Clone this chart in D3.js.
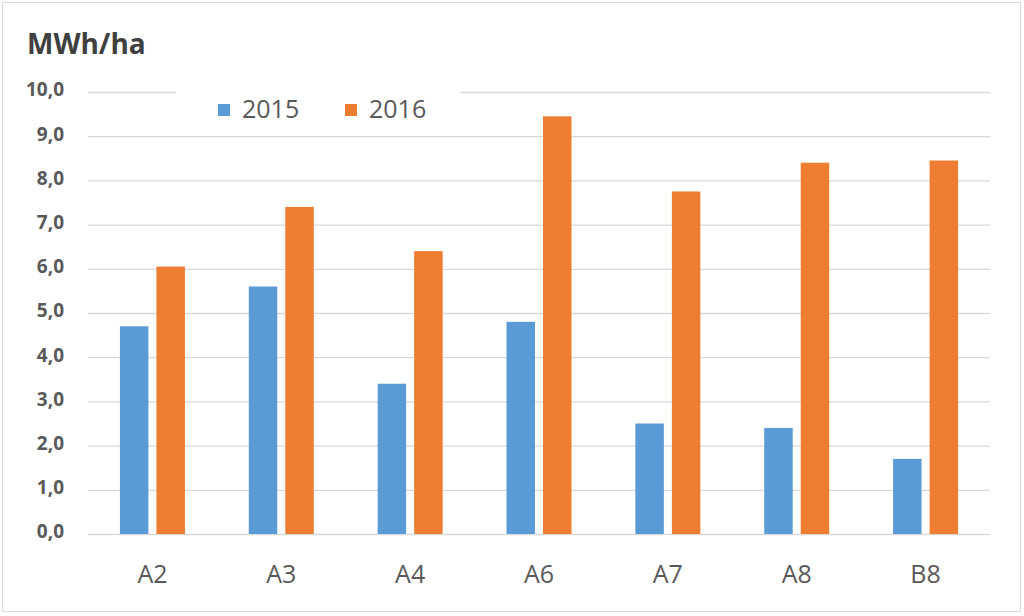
<!DOCTYPE html>
<html><head><meta charset="utf-8">
<script src="https://cdn.jsdelivr.net/npm/d3@7"></script>
<style>body{margin:0;background:#fff}svg{display:block}</style>
</head><body>
<script>
const categories = ["A2","A3","A4","A6","A7","A8","B8"];
const series = ["2015","2016"];
const values2015 = [4.7, 5.6, 3.4, 4.8, 2.5, 2.4, 1.7];
const values2016 = [6.05, 7.4, 6.4, 9.45, 7.75, 8.4, 8.45];
const yTicks = [0,1,2,3,4,5,6,7,8,9,10];
const colors = ["#5b9bd5", "#ed7d31"];

(function(){
const W = 1024, H = 616;
const svg = d3.select("body").append("svg").attr("width", W).attr("height", H);
svg.append("rect").attr("width", W).attr("height", H).attr("fill", "#fff");
svg.append("rect").attr("x", 2.5).attr("y", 2.5).attr("width", 1018).attr("height", 609)
  .attr("fill", "none").attr("stroke", "#d9d9d9").attr("stroke-width", 1);

const pL = 88, pR = 990, pT = 92, pB = 534;
const x = d3.scaleBand().domain(categories).range([pL, pR]).paddingInner(0).paddingOuter(0);
const y = d3.scaleLinear().domain([0, 10]).range([pB, pT]);
const x1 = d3.scaleBand().domain(series).range([0, 65]).paddingInner(0.22);

const fmt = d => d.toFixed(1).replace(".", ",");

const yAxis = d3.axisLeft(y).tickValues(yTicks).tickSize(-(pR - pL)).tickFormat(fmt).tickPadding(24);
const gy = svg.append("g").attr("transform", `translate(${pL},0)`).call(yAxis);
gy.select(".domain").remove();
gy.selectAll(".tick line").attr("stroke", "#d9d9d9").attr("stroke-width", 1.3);
gy.selectAll(".tick text").attr("fill", "#595959").attr("font-family", "'Open Sans', sans-serif")
  .attr("font-weight", 700).attr("font-size", 19).attr("dy", "0.2em");

const data = categories.map((c, i) => ({c, v: [values2015[i], values2016[i]]}));
const groups = svg.append("g").selectAll("g").data(data).join("g")
  .attr("transform", d => `translate(${x(d.c) + x.bandwidth()/2 - 32.5},0)`);
groups.selectAll("rect").data(d => d.v.map((v, j) => ({v, s: series[j], j}))).join("rect")
  .attr("x", d => x1(d.s)).attr("width", x1.bandwidth())
  .attr("y", d => y(d.v)).attr("height", d => y(0) - y(d.v))
  .attr("fill", d => colors[d.j]);

const xAxis = d3.axisBottom(x).tickSize(0).tickPadding(31);
const gx = svg.append("g").attr("transform", `translate(0,${pB})`).call(xAxis);
gx.select(".domain").remove();
gx.selectAll(".tick text").attr("fill", "#595959").attr("font-family", "'Open Sans', sans-serif")
  .attr("font-size", 25);

svg.append("text").attr("x", 27).attr("y", 54).text("MWh/ha")
  .attr("font-family", "'Open Sans', sans-serif").attr("font-weight", 700)
  .attr("font-size", 28).attr("fill", "#404040");

const lg = svg.append("g");
lg.append("rect").attr("x", 176).attr("y", 86).attr("width", 285).attr("height", 44).attr("fill", "#fff");
const legX = [218, 345];
series.forEach((s, i) => {
  lg.append("rect").attr("x", legX[i]).attr("y", 104).attr("width", 12).attr("height", 12).attr("fill", colors[i]);
  lg.append("text").attr("x", legX[i] + 24).attr("y", 118).text(s)
    .attr("font-family", "'Open Sans', sans-serif").attr("font-size", 25).attr("fill", "#595959");
});
})();
</script>
</body></html>
